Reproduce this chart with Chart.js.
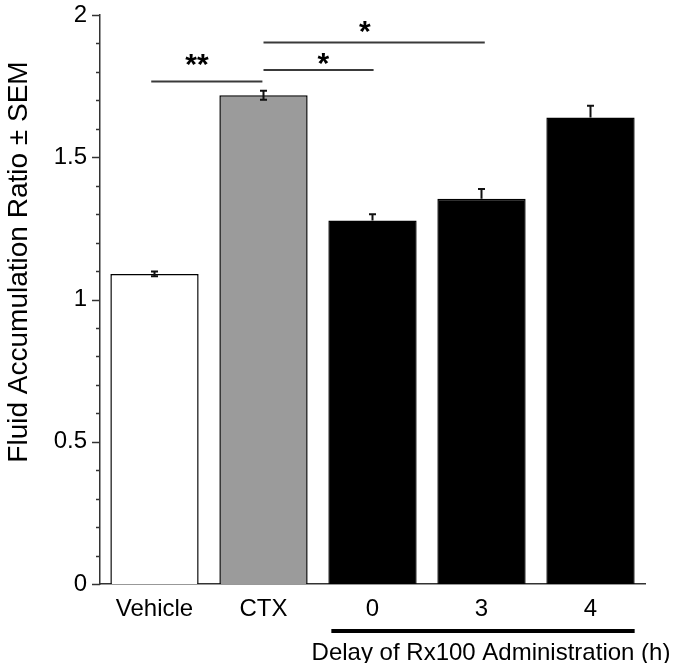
<!DOCTYPE html>
<html>
<head>
<meta charset="utf-8">
<script src="https://cdn.jsdelivr.net/npm/chart.js@4"></script>
<style>
  html, body { margin: 0; padding: 0; background: #fff; }
  #wrap { width: 680px; height: 663px; }
</style>
</head>
<body>
<div id="wrap"><canvas id="c" width="680" height="663"></canvas></div>
<script>
// ---- data ----
const categories = ['Vehicle', 'CTX', '0', '3', '4'];
const values = [1.090, 1.718, 1.278, 1.354, 1.640];
const sem = [0.008, 0.016, 0.022, 0.034, 0.041];
const barColors = ['#ffffff', '#9b9b9b', '#000000', '#000000', '#000000'];
const yTickValues = [0, 0.5, 1, 1.5, 2];
// significance brackets: [fromIndex, toIndex, yValue]
const sigLines = [[-0.03, 0.99, 1.766], [1.0, 2.01, 1.807], [1.0, 3.03, 1.903]];
// significance marks: [xIndex, yValue, text]
const sigMarks = [[0.39, 1.831, '**'], [1.55, 1.835, '*'], [1.93, 1.947, '*']];
const groupFrom = 2, groupTo = 4;
const groupLabel = 'Delay of Rx100 Administration (h)';
const yTitle = 'Fluid Accumulation Ratio \u00B1 SEM';

const FONT = '"Liberation Sans", Arial, sans-serif';
const AXIS = '#333333';

const extras = {
  id: 'extras',
  afterDatasetsDraw(chart) {
    const ctx = chart.ctx;
    const ys = chart.scales.y;
    const meta = chart.getDatasetMeta(0);
    ctx.save();
    ctx.strokeStyle = '#111';
    ctx.lineWidth = 2;
    meta.data.forEach((bar, i) => {
      const x = bar.x;
      const yt = ys.getPixelForValue(values[i] + sem[i]);
      const yb = ys.getPixelForValue(values[i] - sem[i]);
      const yc = ys.getPixelForValue(values[i]);
      const cw = 3.5;
      const dark = barColors[i] === '#000000';
      ctx.beginPath();
      ctx.moveTo(x, yt); ctx.lineTo(x, dark ? yc : yb);
      ctx.moveTo(x - cw, yt); ctx.lineTo(x + cw, yt);
      if (!dark) { ctx.moveTo(x - cw, yb); ctx.lineTo(x + cw, yb); }
      ctx.stroke();
    });
    ctx.restore();
  },
  afterDraw(chart) {
    const ctx = chart.ctx;
    const xs = chart.scales.x, ys = chart.scales.y;
    const meta = chart.getDatasetMeta(0);
    const idx = v => xs.getPixelForValue(0) + v * (xs.getPixelForValue(1) - xs.getPixelForValue(0));
    ctx.save();
    // y ticks (major + minor)
    ctx.strokeStyle = AXIS;
    ctx.lineWidth = 1.5;
    const axX = chart.chartArea.left;
    for (let k = 0; k <= 20; k++) {
      const v = k / 10;
      const y = Math.round(ys.getPixelForValue(v)) + 0.5;
      const len = (k % 5 === 0) ? 8 : 4;
      ctx.beginPath();
      ctx.moveTo(axX, y); ctx.lineTo(axX - len, y);
      ctx.stroke();
    }
    // significance lines
    ctx.strokeStyle = '#3a3a3a';
    ctx.lineWidth = 2;
    sigLines.forEach(([a, b, v]) => {
      const y = ys.getPixelForValue(v);
      ctx.beginPath();
      ctx.moveTo(idx(a), y); ctx.lineTo(idx(b), y);
      ctx.stroke();
    });
    // significance marks
    ctx.fillStyle = '#000';
    const starSize = 30;
    ctx.font = 'bold ' + starSize + 'px ' + FONT;
    ctx.textAlign = 'center';
    ctx.textBaseline = 'alphabetic';
    sigMarks.forEach(([a, v, t]) => {
      const y = ys.getPixelForValue(v);
      ctx.fillText(t, idx(a), y + 0.36 * starSize);
    });
    // group underline
    const b0 = meta.data[groupFrom], b1 = meta.data[groupTo];
    const gx0 = b0.x - b0.width / 2 + 3, gx1 = b1.x + b1.width / 2;
    ctx.fillStyle = '#000';
    ctx.fillRect(gx0, 629, gx1 - gx0, 4);
    // group label
    ctx.font = '24px ' + FONT;
    ctx.textAlign = 'center';
    ctx.textBaseline = 'alphabetic';
    ctx.fillText(groupLabel, 491, 660);
    // y title
    ctx.translate(19, 262);
    ctx.rotate(-Math.PI / 2);
    ctx.font = '28px ' + FONT;
    ctx.textBaseline = 'middle';
    ctx.fillText(yTitle, 0, 0);
    ctx.restore();
  }
};

new Chart(document.getElementById('c'), {
  type: 'bar',
  data: {
    labels: categories,
    datasets: [{
      data: values,
      backgroundColor: barColors,
      borderColor: '#000',
      borderWidth: 1.5,
      borderSkipped: 'bottom',
      categoryPercentage: 1.0,
      barPercentage: 0.81
    }]
  },
  options: {
    responsive: false,
    animation: false,
    devicePixelRatio: 1,
    layout: { padding: { left: 0, right: 35, top: 15, bottom: 0 } },
    plugins: { legend: { display: false }, tooltip: { enabled: false } },
    scales: {
      x: {
        grid: { display: false, drawTicks: false },
        border: { display: true, color: AXIS, width: 1.5 },
        ticks: { color: '#000', font: { family: FONT, size: 24 }, padding: 11, maxRotation: 0, autoSkip: false },
        afterFit(s) { s.height = 79; s.paddingLeft = 0; s.paddingRight = 0; }
      },
      y: {
        min: 0, max: 2,
        grid: { display: false, drawTicks: false },
        border: { display: true, color: AXIS, width: 1.5 },
        ticks: {
          stepSize: 0.5,
          color: '#000',
          font: { family: FONT, size: 24 },
          padding: 13,
          callback: v => yTickValues.includes(v) ? String(v) : ''
        },
        afterFit(s) { s.width = 100; s.paddingTop = 0; s.paddingBottom = 0; }
      }
    }
  },
  plugins: [extras]
});
</script>
</body>
</html>
